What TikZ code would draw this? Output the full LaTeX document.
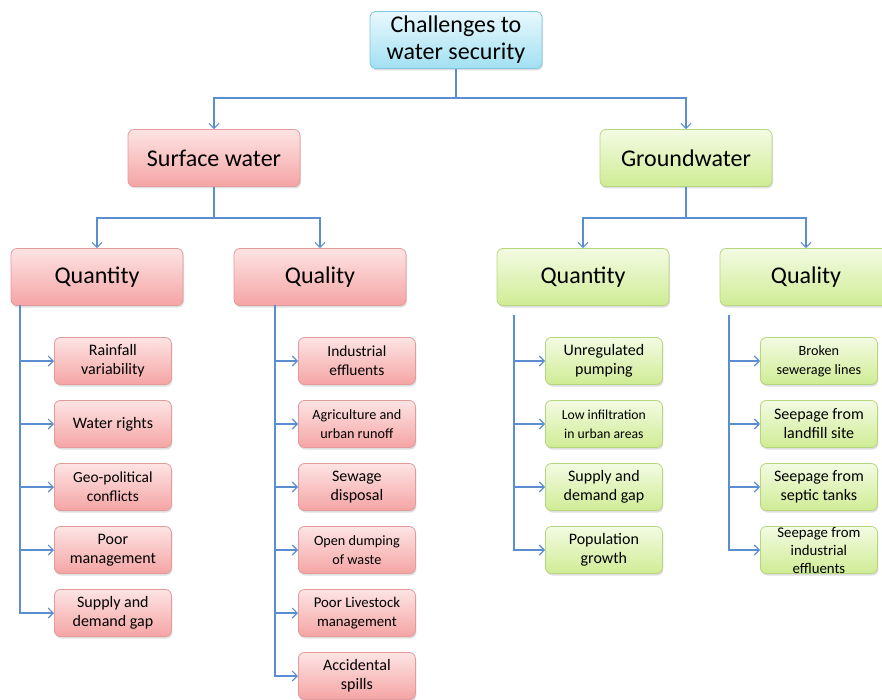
\documentclass[tikz,border=0pt]{standalone}
\usepackage{fontspec}
\setmainfont{Carlito}
\usetikzlibrary{arrows.meta,shadows}
\definecolor{linkblue}{HTML}{5B8ED0}
\definecolor{redtop}{HTML}{FDE4E4}
\definecolor{redbot}{HTML}{F5A4A4}
\definecolor{redline}{HTML}{E39A9A}
\definecolor{greentop}{HTML}{F3FBE3}
\definecolor{greenbot}{HTML}{CFEC94}
\definecolor{greenline}{HTML}{B5D67E}
\definecolor{bluetop}{HTML}{E8F8FD}
\definecolor{bluebot}{HTML}{A2E0F2}
\definecolor{blueline}{HTML}{80C6DF}
\tikzset{
  box/.style={draw,rounded corners=6pt,align=center,line width=0.8pt,
    drop shadow={shadow xshift=1pt,shadow yshift=-2pt,opacity=0.25}},
  redbox/.style={box,draw=redline,top color=redtop,bottom color=redbot},
  greenbox/.style={box,draw=greenline,top color=greentop,bottom color=greenbot},
  bluebox/.style={box,draw=blueline,top color=bluetop,bottom color=bluebot},
  big/.style={minimum width=172pt,minimum height=57pt,font=\fontsize{24}{27}\selectfont},
  item/.style={minimum width=117pt,minimum height=47pt,anchor=west,inner sep=2pt},
  link/.style={draw=linkblue,line width=1.1pt},
  tip/.style={link,-{Straight Barb[length=5pt,width=10pt]}}
}
\begin{document}
\begin{tikzpicture}[x=1pt,y=-1pt]
\useasboundingbox (0,0) rectangle (882,700);
\node[bluebox,big] (top) at (456,40) {Challenges to\\water security};
\node[redbox,big] (sw) at (214,158) {Surface water};
\node[greenbox,big] (gw) at (686,158) {Groundwater};
\node[redbox,big] (swqn) at (97,277) {Quantity};
\node[redbox,big] (swql) at (320,277) {Quality};
\node[greenbox,big] (gwqn) at (583,277) {Quantity};
\node[greenbox,big] (gwql) at (806,277) {Quality};
\coordinate (j0) at (456,98);
\coordinate (j1) at (214,218);
\coordinate (j2) at (686,218);
\draw[link] (top.south) -- (j0);
\draw[tip] (j0) -| (sw.north);
\draw[tip] (j0) -| (gw.north);
\draw[link] (sw.south) -- (j1);
\draw[tip] (j1) -| (swqn.north);
\draw[tip] (j1) -| (swql.north);
\draw[link] (gw.south) -- (j2);
\draw[tip] (j2) -| (gwqn.north);
\draw[tip] (j2) -| (gwql.north);
\coordinate (t1) at (20,305);
\coordinate (t2) at (275,305);
\coordinate (t3) at (514,315);
\coordinate (t4) at (729,315);
\foreach \t/\s [count=\i] in {{Rainfall\\variability}/16,{Water rights}/16,{Geo-political\\conflicts}/15.4,{Poor\\management}/16,{Supply and\\demand gap}/16}{
  \node[redbox,item,font=\fontsize{\s}{19}\selectfont] (swqn\i) at (54,298+63*\i) {\t};
  \draw[tip] (t1) |- (swqn\i.west);
}
\foreach \t/\s [count=\i] in {{Industrial\\effluents}/15.4,{Agriculture and\\urban runoff}/14.2,{Sewage\\disposal}/16,{Open dumping\\of waste}/14.2,{Poor Livestock\\management}/14.8,{Accidental\\spills}/16}{
  \node[redbox,item,font=\fontsize{\s}{19}\selectfont] (swql\i) at (298,298+63*\i) {\t};
  \draw[tip] (t2) |- (swql\i.west);
}
\foreach \t/\s [count=\i] in {{Unregulated\\pumping}/16,{Low infiltration\\in urban areas}/13.7,{Supply and\\demand gap}/16,{Population\\growth}/16}{
  \node[greenbox,item,font=\fontsize{\s}{19}\selectfont] (gwqn\i) at (545,298+63*\i) {\t};
  \draw[tip] (t3) |- (gwqn\i.west);
}
\foreach \t/\s [count=\i] in {{Broken\\sewerage lines}/14.2,{Seepage from\\landfill site}/16,{Seepage from\\septic tanks}/16}{
  \node[greenbox,item,font=\fontsize{\s}{19}\selectfont] (gwql\i) at (760,298+63*\i) {\t};
  \draw[tip] (t4) |- (gwql\i.west);
}
\node[greenbox,item,font=\fontsize{14.8}{18}\selectfont,inner sep=0pt] (gwql4) at (760,550) {Seepage from\\industrial\\effluents};
\draw[tip] (t4) |- (gwql4.west);
\end{tikzpicture}
\end{document}
